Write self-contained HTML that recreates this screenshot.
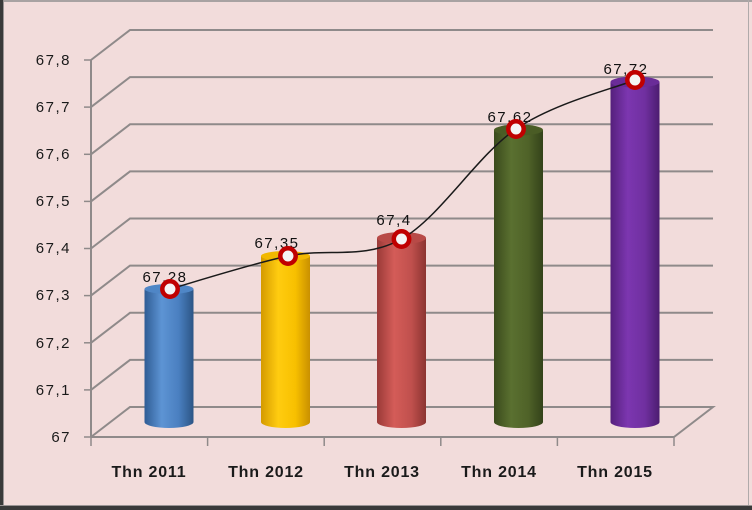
<!DOCTYPE html>
<html>
<head>
<meta charset="utf-8">
<style>
  html,body{margin:0;padding:0;background:#f2dcdb;}
  svg{display:block;}
  .yl{font-family:"Liberation Sans",sans-serif;font-size:15px;fill:#1a1a1a;letter-spacing:1.5px;}
  .xl{font-family:"Liberation Sans",sans-serif;font-size:16px;font-weight:bold;fill:#1a1a1a;letter-spacing:0.8px;}
  .dl{font-family:"Liberation Sans",sans-serif;font-size:15px;fill:#111;letter-spacing:1.5px;}
</style>
</head>
<body>
<svg width="752" height="510" viewBox="0 0 752 510" xmlns="http://www.w3.org/2000/svg">
  <defs>
    <linearGradient id="gB" x1="0" x2="1" y1="0" y2="0">
      <stop offset="0" stop-color="#2f5c94"/>
      <stop offset="0.35" stop-color="#5d94d4"/>
      <stop offset="0.7" stop-color="#4a7fc0"/>
      <stop offset="1" stop-color="#2c5585"/>
    </linearGradient>
    <linearGradient id="gY" x1="0" x2="1" y1="0" y2="0">
      <stop offset="0" stop-color="#d49a00"/>
      <stop offset="0.35" stop-color="#ffcc10"/>
      <stop offset="0.7" stop-color="#f8c000"/>
      <stop offset="1" stop-color="#c99000"/>
    </linearGradient>
    <linearGradient id="gR" x1="0" x2="1" y1="0" y2="0">
      <stop offset="0" stop-color="#9a3a38"/>
      <stop offset="0.35" stop-color="#d45c58"/>
      <stop offset="0.7" stop-color="#c0504d"/>
      <stop offset="1" stop-color="#8c3431"/>
    </linearGradient>
    <linearGradient id="gG" x1="0" x2="1" y1="0" y2="0">
      <stop offset="0" stop-color="#3a4a1c"/>
      <stop offset="0.35" stop-color="#5a7030"/>
      <stop offset="0.7" stop-color="#4f6228"/>
      <stop offset="1" stop-color="#33421a"/>
    </linearGradient>
    <linearGradient id="gP" x1="0" x2="1" y1="0" y2="0">
      <stop offset="0" stop-color="#55207c"/>
      <stop offset="0.35" stop-color="#7c36b0"/>
      <stop offset="0.7" stop-color="#7030a0"/>
      <stop offset="1" stop-color="#4c1c70"/>
    </linearGradient>
  </defs>

  <!-- background & frame -->
  <rect x="0" y="0" width="752" height="510" fill="#f2dcdb"/>
  <rect x="0" y="0" width="752" height="2" fill="#a8a2a2"/>
  <rect x="0" y="0" width="3" height="510" fill="#3a3a3a"/>
  <rect x="3" y="0" width="1" height="510" fill="#9a9494"/>
  <rect x="748" y="0" width="1" height="506" fill="#b0aaaa"/>
  <rect x="0" y="505" width="752" height="1" fill="#9a9494"/>
  <rect x="0" y="506" width="752" height="4" fill="#3a3a3a"/>

  <!-- grid lines (back wall + side diagonals) -->
  <g stroke="#8f8a8a" stroke-width="2" fill="none">
    <polyline points="91,60 130,30 713,30"/>
    <polyline points="91,107.1 130,77.1 713,77.1"/>
    <polyline points="91,154.3 130,124.3 713,124.3"/>
    <polyline points="91,201.4 130,171.4 713,171.4"/>
    <polyline points="91,248.5 130,218.5 713,218.5"/>
    <polyline points="91,295.6 130,265.6 713,265.6"/>
    <polyline points="91,342.8 130,312.8 713,312.8"/>
    <polyline points="91,389.9 130,359.9 713,359.9"/>
    <!-- floor -->
    <polyline points="91,437 130,407 713,407 674,437"/>
    <line x1="91" y1="437" x2="674" y2="437"/>
    <!-- y axis -->
    <line x1="91" y1="60" x2="91" y2="437"/>
  </g>
  <g stroke="#8f8a8a" stroke-width="1.5">
    <line x1="84" y1="60" x2="91" y2="60"/>
    <line x1="84" y1="107.1" x2="91" y2="107.1"/>
    <line x1="84" y1="154.3" x2="91" y2="154.3"/>
    <line x1="84" y1="201.4" x2="91" y2="201.4"/>
    <line x1="84" y1="248.5" x2="91" y2="248.5"/>
    <line x1="84" y1="295.6" x2="91" y2="295.6"/>
    <line x1="84" y1="342.8" x2="91" y2="342.8"/>
    <line x1="84" y1="389.9" x2="91" y2="389.9"/>
    <line x1="84" y1="437" x2="91" y2="437"/>
    <line x1="91" y1="437" x2="91" y2="446"/>
    <line x1="207.6" y1="437" x2="207.6" y2="446"/>
    <line x1="324.2" y1="437" x2="324.2" y2="446"/>
    <line x1="440.8" y1="437" x2="440.8" y2="446"/>
    <line x1="557.4" y1="437" x2="557.4" y2="446"/>
    <line x1="674" y1="437" x2="674" y2="446"/>
  </g>

  <!-- y labels -->
  <g class="yl" text-anchor="end">
    <text x="71" y="65">67,8</text>
    <text x="71" y="112">67,7</text>
    <text x="71" y="159">67,6</text>
    <text x="71" y="206">67,5</text>
    <text x="71" y="253">67,4</text>
    <text x="71" y="300">67,3</text>
    <text x="71" y="348">67,2</text>
    <text x="71" y="395">67,1</text>
    <text x="71" y="442">67</text>
  </g>

  <!-- bars (cylinders) -->
  <g>
    <path d="M144.5,289 L144.5,422 A24.5,6 0 0 0 193.5,422 L193.5,289 Z" fill="url(#gB)"/>
    <ellipse cx="169" cy="289" rx="24.5" ry="5" fill="#4f86c6"/>

    <path d="M261,256 L261,422 A24.5,6 0 0 0 310,422 L310,256 Z" fill="url(#gY)"/>
    <ellipse cx="285.5" cy="256" rx="24.5" ry="5" fill="#f2b800"/>

    <path d="M377,238 L377,422 A24.5,6 0 0 0 426,422 L426,238 Z" fill="url(#gR)"/>
    <ellipse cx="401.5" cy="238" rx="24.5" ry="6" fill="#b84a47"/>

    <path d="M494,130 L494,422 A24.5,6 0 0 0 543,422 L543,130 Z" fill="url(#gG)"/>
    <ellipse cx="518.5" cy="130" rx="24.5" ry="5.5" fill="#4a5c25"/>

    <path d="M610.5,82 L610.5,422 A24.5,6 0 0 0 659.5,422 L659.5,82 Z" fill="url(#gP)"/>
    <ellipse cx="635" cy="82" rx="24.5" ry="5.5" fill="#6a2c98"/>
  </g>

  <!-- data labels -->
  <g class="dl" text-anchor="middle">
    <text x="165" y="282">67,28</text>
    <text x="277" y="248">67,35</text>
    <text x="394" y="225">67,4</text>
    <text x="510" y="122">67,62</text>
    <text x="626" y="74">67,72</text>
  </g>

  <!-- smooth line -->
  <path d="M170,289 C189.7,283.5 249.4,264.3 288,256 C326.6,247.7 363.5,260.2 401.5,239 C439.5,217.8 477,155.5 516,129 C555,102.5 615.2,88.2 635,80"
        fill="none" stroke="#1a1a1a" stroke-width="1.5"/>

  <!-- markers -->
  <g fill="#f4f4f4" stroke="#c00000" stroke-width="4.5">
    <circle cx="170" cy="289" r="7.7"/>
    <circle cx="288" cy="256" r="7.7"/>
    <circle cx="401.5" cy="239" r="7.7"/>
    <circle cx="516" cy="129" r="7.7"/>
    <circle cx="635" cy="80" r="7.7"/>
  </g>

  <!-- x labels -->
  <g class="xl" text-anchor="middle">
    <text x="149" y="477">Thn 2011</text>
    <text x="266" y="477">Thn 2012</text>
    <text x="382" y="477">Thn 2013</text>
    <text x="499" y="477">Thn 2014</text>
    <text x="615" y="477">Thn 2015</text>
  </g>
</svg>
</body>
</html>
